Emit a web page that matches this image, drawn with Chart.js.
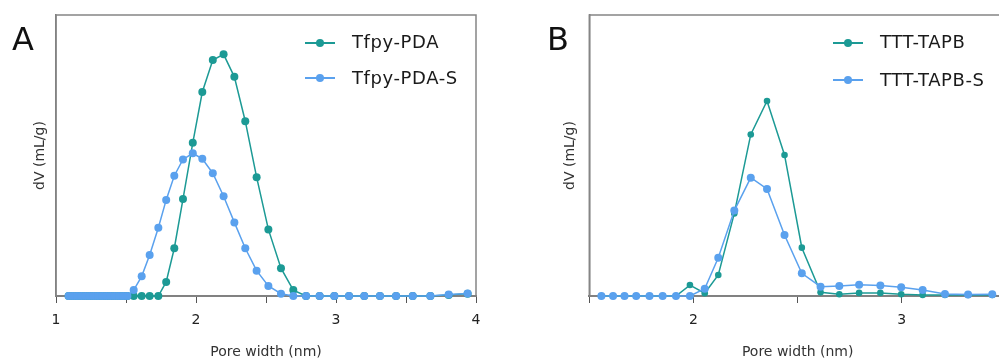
<!DOCTYPE html>
<html>
<head>
<meta charset="utf-8">
<script src="https://cdn.jsdelivr.net/npm/chart.js@4.4.0/dist/chart.umd.min.js"></script>
<style>
  html, body { margin: 0; padding: 0; background: #fff; }
  #wrap { position: relative; width: 999px; height: 363px; overflow: hidden; font-family: "DejaVu Sans", sans-serif; }
  .panel { position: absolute; top: 0; height: 363px; }
  .letter { position: absolute; font-size: 32px; line-height: 32px; color: #111; }
  .leg { position: absolute; font-size: 18px; line-height: 18px; color: #1a1a1a; white-space: nowrap; letter-spacing: 0.6px; }
  .mk { position: absolute; width: 30px; height: 0; border-top: 2px solid; }
  .mk i { position: absolute; left: 11px; top: -5.5px; width: 8px; height: 8px; border-radius: 50%; }
</style>
</head>
<body>
<div id="wrap">
  <div class="panel" style="left:0;width:500px"><canvas id="chartA"></canvas></div>
  <div class="panel" style="left:500px;width:515px"><canvas id="chartB"></canvas></div>

  <div class="letter" style="left:12px;top:23px">A</div>
  <div class="letter" style="left:547px;top:23px">B</div>

  <div class="mk" style="left:305px;top:42px;border-color:#1c9a95"><i style="background:#1c9a95"></i></div>
  <div class="leg" style="left:352px;top:33px">Tfpy-PDA</div>
  <div class="mk" style="left:305px;top:77px;border-color:#5aa1ee"><i style="background:#5aa1ee"></i></div>
  <div class="leg" style="left:352px;top:69px">Tfpy-PDA-S</div>

  <div class="mk" style="left:833px;top:42px;border-color:#1c9a95"><i style="background:#1c9a95"></i></div>
  <div class="leg" style="left:880px;top:33px">TTT-TAPB</div>
  <div class="mk" style="left:833px;top:79px;border-color:#5aa1ee"><i style="background:#5aa1ee"></i></div>
  <div class="leg" style="left:880px;top:71px">TTT-TAPB-S</div>
</div>

<script>
// Pore size distributions (dV, arbitrary units, axis top = 1)

const TEAL = '#1c9a95';
const BLUE = '#5aa1ee';

// Panel A
const aPoreWidth = [1.09, 1.12, 1.15, 1.18, 1.21, 1.24, 1.27, 1.30, 1.33, 1.36, 1.39, 1.42, 1.45, 1.48, 1.51,
  1.555, 1.612, 1.669, 1.731, 1.787, 1.845, 1.907, 1.977, 2.045, 2.12, 2.197, 2.274, 2.352, 2.433,
  2.517, 2.607, 2.695, 2.786, 2.883, 2.988, 3.093, 3.202, 3.314, 3.429, 3.548, 3.674, 3.805, 3.94];
const tfpyPDA = [0, 0, 0, 0, 0, 0, 0, 0, 0, 0, 0, 0, 0, 0, 0,
  0, 0, 0, 0, 0.05, 0.17, 0.345, 0.545, 0.726, 0.84, 0.86, 0.78, 0.622, 0.423,
  0.237, 0.099, 0.021, 0, 0, 0, 0, 0, 0, 0, 0, 0, 0.004, 0.008];
const tfpyPDAS = [0, 0, 0, 0, 0, 0, 0, 0, 0, 0, 0, 0, 0, 0, 0,
  0.021, 0.07, 0.146, 0.243, 0.342, 0.428, 0.486, 0.508, 0.488, 0.437, 0.355, 0.262, 0.17, 0.09,
  0.036, 0.008, 0, 0, 0, 0, 0, 0, 0, 0, 0, 0, 0.005, 0.009];
const aTicks = [1, 2, 3, 4];

// Panel B
const bPoreWidth = [1.558, 1.614, 1.669, 1.725, 1.789, 1.852, 1.916, 1.983, 2.054, 2.119, 2.196, 2.275,
  2.353, 2.437, 2.52, 2.61, 2.7, 2.795, 2.897, 2.997, 3.1, 3.207, 3.318, 3.434];
const tttTAPB = [0, 0, 0, 0, 0, 0, 0, 0.039, 0.01, 0.075, 0.294, 0.575,
  0.694, 0.502, 0.172, 0.013, 0.006, 0.011, 0.011, 0.006, 0.004, 0.004, 0.004, 0.004];
const tttTAPBS = [0, 0, 0, 0, 0, 0, 0, 0, 0.026, 0.136, 0.304, 0.421,
  0.381, 0.217, 0.081, 0.033, 0.036, 0.04, 0.037, 0.031, 0.021, 0.007, 0.005, 0.006];
const bTicks = [2, 3];

const xy = (xs, ys) => xs.map((x, i) => ({ x, y: ys[i] }));

const frame = {
  id: 'frame',
  beforeDatasetsDraw(chart) {
    const { ctx, chartArea: a } = chart;
    ctx.save();
    ctx.strokeStyle = '#858585';
    ctx.lineWidth = 1.5;
    ctx.strokeRect(a.left, a.top, a.right - a.left, a.bottom - a.top);
    ctx.restore();
  }
};

function series(label, data, color, radius, order) {
  return {
    label, data, order,
    borderColor: color, backgroundColor: color,
    pointBackgroundColor: color, pointBorderColor: color,
    borderWidth: 1.5, pointRadius: radius, pointBorderWidth: 0,
    tension: 0, clip: false,
  };
}

function makeChart(id, datasets, xmin, xmax, majors, pad, yLeft) {
  return new Chart(document.getElementById(id), {
    type: 'scatter',
    data: { datasets },
    plugins: [frame],
    options: {
      responsive: true,
      maintainAspectRatio: false,
      animation: false,
      showLine: true,
      layout: { padding: pad },
      plugins: { legend: { display: false }, tooltip: { enabled: false } },
      scales: {
        x: {
          type: 'linear', min: xmin, max: xmax,
          afterFit: s => { s.height = 64.4; },
          ticks: {
            stepSize: 0.5, color: '#222', padding: 9,
            font: { family: 'DejaVu Sans', size: 14 },
            callback: v => majors.includes(v) ? String(v) : '',
          },
          grid: { drawOnChartArea: false, color: '#555', tickLength: 7 },
          border: { display: true, color: '#7a7a7a', width: 2 },
          title: { display: true, text: 'Pore width (nm)', color: '#333', padding: 0, font: { family: 'DejaVu Sans', size: 14 } },
        },
        y: {
          min: 0, max: 1,
          afterFit: s => { s.width = yLeft; },
          ticks: { display: false },
          grid: { display: false },
          border: { display: true, color: '#7a7a7a', width: 1.5 },
          title: { display: true, text: 'dV (mL/g)', color: '#333', padding: 0, font: { family: 'DejaVu Sans', size: 14 } },
        },
      },
    },
  });
}

makeChart('chartA', [
  series('Tfpy-PDA-S', xy(aPoreWidth, tfpyPDAS), BLUE, 4, 0),
  series('Tfpy-PDA', xy(aPoreWidth, tfpyPDA), TEAL, 4, 1),
], 1, 4, aTicks, { left: 31.6, right: 24, top: 15, bottom: 2.6 }, 24.4);

makeChart('chartB', [
  series('TTT-TAPB-S', xy(bPoreWidth, tttTAPBS), BLUE, 4, 0),
  series('TTT-TAPB', xy(bPoreWidth, tttTAPB), TEAL, 3.3, 1),
], 1.5, 3.5, bTicks, { left: 61.6, right: 6.1, top: 15, bottom: 2.6 }, 27.7);
</script>
</body>
</html>
